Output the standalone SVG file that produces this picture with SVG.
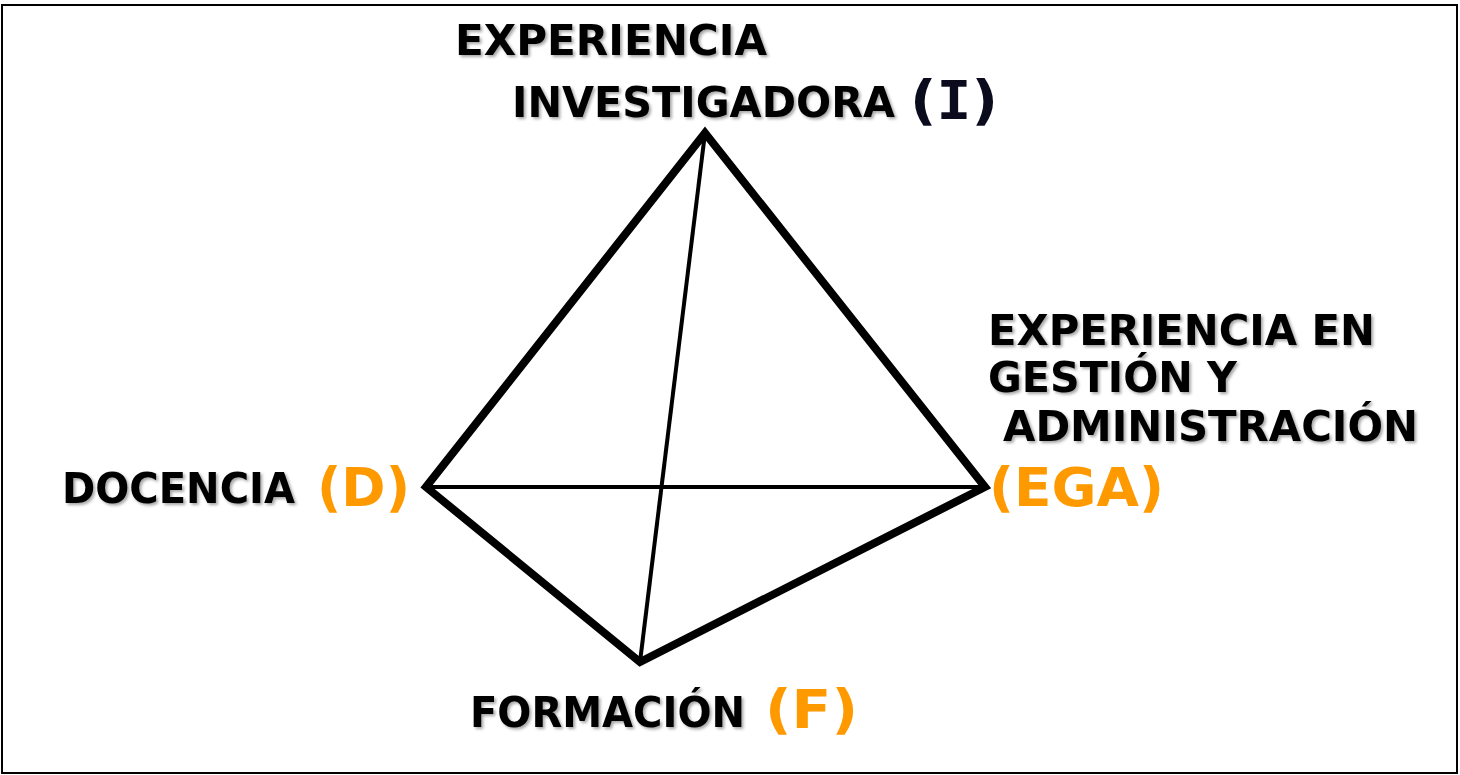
<svg xmlns="http://www.w3.org/2000/svg" width="1460" height="775" viewBox="0 0 1460 775">
<defs>
<filter id="sh" x="-5%" y="-20%" width="110%" height="150%">
<feDropShadow dx="2" dy="2" stdDeviation="1.5" flood-color="#000" flood-opacity="0.35"/>
</filter>
<style>
.lbl{font-family:"DejaVu Sans","Verdana",sans-serif;font-weight:bold;font-size:42px;fill:#000;filter:url(#sh)}
.tag{font-family:"DejaVu Sans","Verdana",sans-serif;font-weight:bold;font-size:54px;fill:#FF9900}
.tagd{font-family:"DejaVu Sans","Verdana",sans-serif;font-weight:bold;font-size:54px;fill:#0b0b1e}
.edge{stroke:#000;stroke-width:8;fill:none;stroke-linejoin:miter;stroke-linecap:round}
.inner{stroke:#000;stroke-width:4;fill:none}
</style>
</defs>
<rect x="2" y="5" width="1455" height="768" fill="#fff" stroke="#000" stroke-width="2"/>
<g id="connectors">
<line class="inner" x1="426" y1="487" x2="985" y2="487"/>
<line class="inner" x1="705" y1="133" x2="640" y2="662"/>
<polygon class="edge" points="705,133 985,487 640,662 426,487"/>
</g>
<g id="node-I">
<text class="lbl" x="455" y="55" textLength="312" lengthAdjust="spacingAndGlyphs">EXPERIENCIA</text>
<text class="lbl" x="512" y="117" textLength="383" lengthAdjust="spacingAndGlyphs">INVESTIGADORA</text>
<text class="tagd" x="910" y="119" textLength="88" lengthAdjust="spacingAndGlyphs">(<tspan font-family="'DejaVu Sans Mono',monospace">I</tspan>)</text>
</g>
<g id="node-D">
<text class="lbl" x="62" y="503" textLength="233" lengthAdjust="spacingAndGlyphs">DOCENCIA</text>
<text class="tag" x="317" y="506" textLength="93" lengthAdjust="spacingAndGlyphs">(D)</text>
</g>
<g id="node-EGA">
<text class="lbl" x="988" y="345" textLength="387" lengthAdjust="spacingAndGlyphs">EXPERIENCIA EN</text>
<text class="lbl" x="988" y="392" textLength="249" lengthAdjust="spacingAndGlyphs">GESTIÓN Y</text>
<text class="lbl" x="1003" y="441" textLength="415" lengthAdjust="spacingAndGlyphs">ADMINISTRACIÓN</text>
<text class="tag" x="989" y="506" textLength="175" lengthAdjust="spacingAndGlyphs">(EGA)</text>
</g>
<g id="node-F">
<text class="lbl" x="470" y="727" textLength="275" lengthAdjust="spacingAndGlyphs">FORMACIÓN</text>
<text class="tag" x="765" y="728" textLength="93" lengthAdjust="spacingAndGlyphs">(F)</text>
</g>
</svg>
